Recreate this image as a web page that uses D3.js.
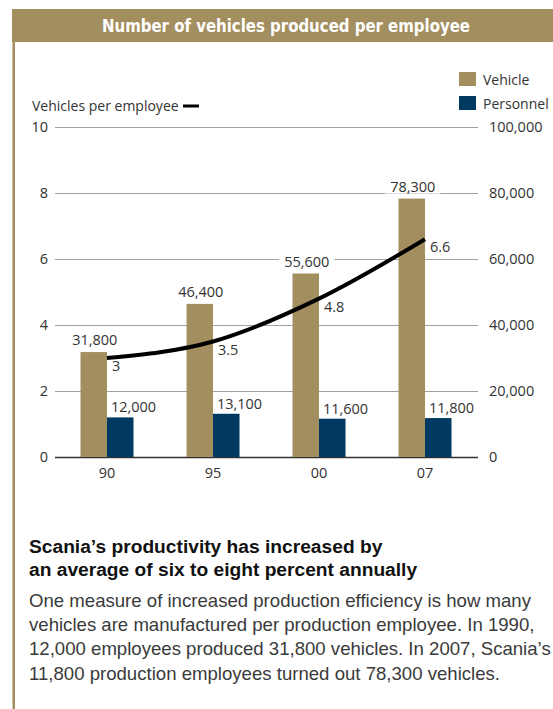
<!DOCTYPE html>
<html>
<head>
<meta charset="utf-8">
<script src="https://cdn.jsdelivr.net/npm/d3@7"></script>
<style>
  body { margin: 0; background: #fff; }
  svg { display: block; }
</style>
</head>
<body>
<div id="chart"></div>
<script>
const years = ['90', '95', '00', '07'];
const vehicles = [31800, 46400, 55600, 78300];
const personnel = [12000, 13100, 11600, 11800];
const perEmployee = [3, 3.5, 4.8, 6.6];
const leftTicks = [0, 2, 4, 6, 8, 10];
const rightTicks = [0, 20000, 40000, 60000, 80000, 100000];
const seriesNames = ['Vehicle', 'Personnel'];

const title = 'Number of vehicles produced per employee';
const lineLabel = 'Vehicles per employee';
const headline = ['Scania\u2019s productivity has increased by', 'an average of six to eight percent annually'];
const body = [
  'One measure of increased production efficiency is how many',
  'vehicles are manufactured per production employee. In 1990,',
  '12,000 employees produced 31,800 vehicles. In 2007, Scania\u2019s',
  '11,800 production employees turned out 78,300 vehicles.',
];

const colors = {
  tan: '#a38e5f',
  navy: '#003a60',
  grid: '#a0a0a0',
  axis: '#333',
  text: '#333',
};

const width = 553;
const height = 709;
const plot = { left: 55, right: 478, top: 127, bottom: 457 };
const chartFont = '"Open Sans", sans-serif';

const data = years.map((year, i) => ({
  year,
  vehicle: vehicles[i],
  personnel: personnel[i],
  ratio: perEmployee[i],
}));

const svg = d3.select('#chart')
  .append('svg')
  .attr('width', width)
  .attr('height', height);

// frame: header band + left rule
svg.append('rect')
  .attr('x', 12).attr('y', 9)
  .attr('width', width - 12).attr('height', 33)
  .attr('fill', colors.tan);

svg.append('rect')
  .attr('x', 12.5).attr('y', 9)
  .attr('width', 2.5).attr('height', height - 9)
  .attr('fill', colors.tan);

svg.append('text')
  .attr('x', 102).attr('y', 32)
  .attr('textLength', 368)
  .attr('lengthAdjust', 'spacingAndGlyphs')
  .attr('font-family', '"DejaVu Sans Condensed", "DejaVu Sans", sans-serif')
  .attr('font-weight', 'bold')
  .attr('font-size', 18)
  .attr('fill', '#fff')
  .text(title);

// scales
const x = d3.scaleBand()
  .domain(years)
  .range([54, 478])
  .paddingInner(0.5)
  .paddingOuter(0.25);

const yLeft = d3.scaleLinear()
  .domain([0, 10])
  .range([plot.bottom, plot.top]);

const yRight = d3.scaleLinear()
  .domain([0, 100000])
  .range([plot.bottom, plot.top]);

const half = x.bandwidth() / 2;
const fmt = d3.format(',');

// gridlines
const grid = svg.append('g').attr('class', 'grid');
grid.selectAll('line')
  .data(leftTicks)
  .enter()
  .append('line')
  .attr('x1', plot.left)
  .attr('x2', plot.right)
  .attr('y1', d => Math.round(yLeft(d)) + 0.5)
  .attr('y2', d => Math.round(yLeft(d)) + 0.5)
  .attr('stroke', d => d === 0 ? colors.axis : colors.grid)
  .attr('stroke-width', d => d === 0 ? 1.6 : 1);

// left axis labels
svg.append('g')
  .selectAll('text')
  .data(leftTicks)
  .enter()
  .append('text')
  .attr('x', 48)
  .attr('y', d => yLeft(d) + 5)
  .attr('text-anchor', 'end')
  .attr('font-family', chartFont)
  .attr('font-size', 14.5)
  .attr('fill', colors.text)
  .text(d => d);

// right axis labels
svg.append('g')
  .selectAll('text')
  .data(rightTicks)
  .enter()
  .append('text')
  .attr('x', 489)
  .attr('y', d => yRight(d) + 5)
  .attr('font-family', chartFont)
  .attr('font-size', 14.5)
  .attr('fill', colors.text)
  .text(d => d === 0 ? '0' : fmt(d));

// x labels
svg.append('g')
  .selectAll('text')
  .data(years)
  .enter()
  .append('text')
  .attr('x', d => x(d) + half)
  .attr('y', 478)
  .attr('text-anchor', 'middle')
  .attr('font-family', chartFont)
  .attr('font-size', 14.5)
  .attr('fill', colors.text)
  .text(d => d);

// bars
const bars = svg.append('g').attr('class', 'bars');
bars.selectAll('.bar-vehicle')
  .data(data)
  .enter()
  .append('rect')
  .attr('class', 'bar-vehicle')
  .attr('x', d => x(d.year))
  .attr('width', half)
  .attr('y', d => yRight(d.vehicle))
  .attr('height', d => plot.bottom - yRight(d.vehicle))
  .attr('fill', colors.tan);

bars.selectAll('.bar-personnel')
  .data(data)
  .enter()
  .append('rect')
  .attr('class', 'bar-personnel')
  .attr('x', d => x(d.year) + half)
  .attr('width', half)
  .attr('y', d => yRight(d.personnel))
  .attr('height', d => plot.bottom - yRight(d.personnel))
  .attr('fill', colors.navy);

// value labels; vehicle ones get a white backing so gridlines break behind them
const addLabel = (g, px, py, str, backed) => {
  const t = g.append('text')
    .attr('x', px)
    .attr('y', py)
    .attr('text-anchor', 'middle')
    .attr('font-family', chartFont)
    .attr('font-size', 14.5)
    .attr('fill', colors.text)
    .text(str);
  if (!backed) return;
  const box = t.node().getBBox();
  g.insert('rect', () => t.node())
    .attr('x', box.x - 5)
    .attr('y', box.y + 2)
    .attr('width', box.width + 10)
    .attr('height', box.height - 4)
    .attr('fill', '#fff');
};

const labels = svg.append('g').attr('class', 'labels');
data.forEach(d => {
  addLabel(labels, x(d.year) + half / 2 + 1, yRight(d.vehicle) - 7, fmt(d.vehicle), true);
  addLabel(labels, x(d.year) + x.bandwidth(), yRight(d.personnel) - 5, fmt(d.personnel), false);
});

// vehicles per employee line
const line = d3.line()
  .x(d => x(d.year) + half)
  .y(d => yLeft(d.ratio))
  .curve(d3.curveMonotoneX);

svg.append('path')
  .datum(data)
  .attr('d', line)
  .attr('fill', 'none')
  .attr('stroke', '#000')
  .attr('stroke-width', 4);

svg.append('g')
  .selectAll('text')
  .data(data)
  .enter()
  .append('text')
  .attr('x', d => x(d.year) + half + 5)
  .attr('y', d => yLeft(d.ratio) + 13)
  .attr('font-family', chartFont)
  .attr('font-size', 14.5)
  .attr('fill', colors.text)
  .text(d => d.ratio);

// line key
svg.append('text')
  .attr('x', 32).attr('y', 111)
  .attr('font-family', chartFont)
  .attr('font-size', 14)
  .attr('fill', colors.text)
  .text(lineLabel);

svg.append('rect')
  .attr('x', 183).attr('y', 104.5)
  .attr('width', 16).attr('height', 3)
  .attr('fill', '#000');

// legend
const legend = svg.append('g')
  .selectAll('g')
  .data(seriesNames)
  .enter()
  .append('g')
  .attr('transform', (d, i) => `translate(459, ${72 + i * 24})`);

legend.append('rect')
  .attr('width', 17)
  .attr('height', 14)
  .attr('fill', (d, i) => i === 0 ? colors.tan : colors.navy);

legend.append('text')
  .attr('x', 24)
  .attr('y', 12.5)
  .attr('font-family', chartFont)
  .attr('font-size', 14)
  .attr('fill', colors.text)
  .text(d => d);

// caption
svg.append('g')
  .selectAll('text')
  .data(headline)
  .enter()
  .append('text')
  .attr('x', 29)
  .attr('y', (d, i) => 553 + i * 23)
  .attr('font-family', '"Liberation Sans", Arial, sans-serif')
  .attr('font-weight', 'bold')
  .attr('font-size', 19.2)
  .attr('fill', '#111')
  .text(d => d);

svg.append('g')
  .selectAll('text')
  .data(body)
  .enter()
  .append('text')
  .attr('x', 29)
  .attr('y', (d, i) => 607 + i * 24.2)
  .attr('font-family', '"Liberation Sans", Arial, sans-serif')
  .attr('font-size', 18.6)
  .attr('fill', '#3a3a3a')
  .text(d => d);
</script>
</body>
</html>
